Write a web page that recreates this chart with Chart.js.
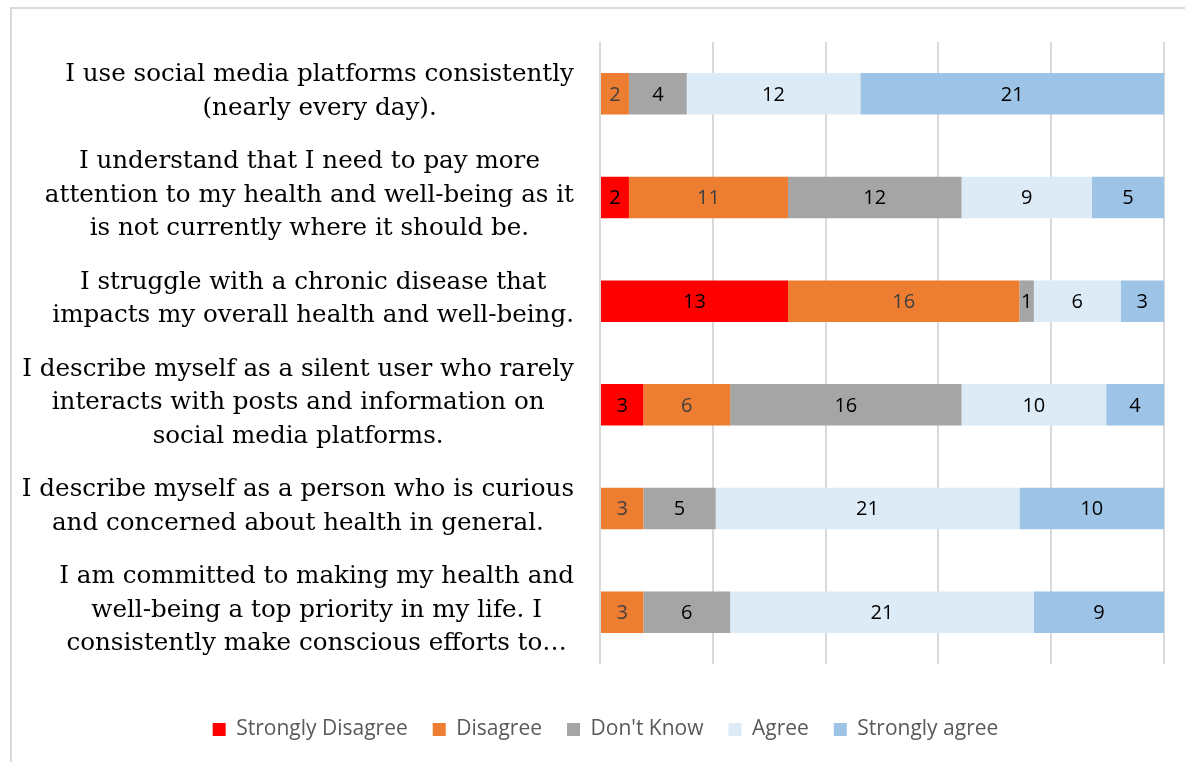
<!DOCTYPE html>
<html>
<head>
<meta charset="utf-8">
<script src="https://cdn.jsdelivr.net/npm/chart.js@4.4.1/dist/chart.umd.min.js"></script>
<style>
  html, body { margin: 0; padding: 0; background: #fff; }
  #wrap { position: relative; width: 1185px; height: 762px; }
  #frame { position: absolute; left: 10px; top: 7px; width: 1175px; height: 755px;
           border-left: 2px solid #d9d9d9; border-top: 2px solid #d9d9d9; box-sizing: border-box; }
  canvas { position: absolute; left: 0; top: 0; }
</style>
</head>
<body>
<div id="wrap">
  <div id="frame"></div>
  <canvas id="c" width="1185" height="762"></canvas>
</div>
<script>
// ---- data ----
const categories = [
  ["I use social media platforms consistently", "(nearly every day)."],
  ["I understand that I need to pay more", "attention to my health and well-being as it", "is not currently where it should be."],
  ["I struggle with a chronic disease that", "impacts my overall health and well-being."],
  ["I describe myself as a silent user who rarely", "interacts with posts and information on", "social media platforms."],
  ["I describe myself as a person who is curious", "and concerned about health in general."],
  ["I am committed to making my health and", "well-being a top priority in my life. I", "consistently make conscious efforts to…"]
];
const seriesNames = ["Strongly Disagree", "Disagree", "Don't Know", "Agree", "Strongly agree"];
const stronglyDisagree = [0, 2, 13, 3, 0, 0];
const disagree         = [2, 11, 16, 6, 3, 3];
const dontKnow         = [4, 12, 1, 16, 5, 6];
const agree            = [12, 9, 6, 10, 21, 21];
const stronglyAgree    = [21, 5, 3, 4, 10, 9];
const xTicks = [0, 20, 40, 60, 80, 100];

const colors = ["#FF0000", "#ED7D31", "#A5A5A5", "#DDEBF7", "#9DC3E6"];
const labelColors = ["#000000", "#404040", "#000000", "#000000", "#000000"];

const counts = [stronglyDisagree, disagree, dontKnow, agree, stronglyAgree];
const totals = categories.map((_, i) => counts.reduce((s, arr) => s + arr[i], 0));

const datasets = counts.map((arr, k) => ({
  label: seriesNames[k],
  data: arr.map((v, i) => v / totals[i] * 100),
  raw: arr,
  backgroundColor: colors[k],
  borderWidth: 0,
  barPercentage: 0.4,
  categoryPercentage: 1.0
}));

const yLabelPlugin = {
  id: 'yLabels',
  afterDraw(chart) {
    const ctx = chart.ctx;
    const ys = chart.scales.y;
    const rightX = 574;
    const lh = 33.5;
    ctx.save();
    ctx.font = '24.6px "DejaVu Serif", "Liberation Serif", serif';
    ctx.fillStyle = '#000000';
    ctx.textAlign = 'center';
    ctx.textBaseline = 'middle';
    categories.forEach((lines, i) => {
      const cy = ys.getPixelForValue(i) - 2;
      const w = Math.max(...lines.map(l => ctx.measureText(l).width));
      const cx = rightX - w / 2;
      const y0 = cy - (lines.length - 1) * lh / 2;
      lines.forEach((l, j) => ctx.fillText(l, cx, y0 + j * lh));
    });
    ctx.restore();
  }
};

const valueLabelPlugin = {
  id: 'valueLabels',
  afterDatasetsDraw(chart) {
    const ctx = chart.ctx;
    ctx.save();
    ctx.font = '20px "Open Sans", sans-serif';
    ctx.textAlign = 'center';
    ctx.textBaseline = 'middle';
    chart.data.datasets.forEach((ds, k) => {
      const meta = chart.getDatasetMeta(k);
      meta.data.forEach((el, i) => {
        const v = ds.raw[i];
        if (!v) return;
        ctx.fillStyle = labelColors[k];
        ctx.fillText(String(v), (el.x + el.base) / 2, el.y + 1);
      });
    });
    ctx.restore();
  }
};

new Chart(document.getElementById('c'), {
  type: 'bar',
  data: { labels: categories.map(c => c.join(' ')), datasets },
  options: {
    indexAxis: 'y',
    responsive: false,
    animation: false,
    layout: { padding: { left: 47, right: 21, top: 42, bottom: 12 } },
    scales: {
      x: {
        stacked: true, min: 0, max: 100,
        afterBuildTicks: s => { s.ticks = xTicks.map(v => ({ value: v })); },
        afterFit: s => { s.height = 30; },
        ticks: { display: false },
        grid: { color: '#d9d9d9', lineWidth: 2, drawTicks: false },
        border: { display: false }
      },
      y: {
        stacked: true,
        afterFit: s => { s.width = 553; },
        ticks: { display: false },
        grid: { display: false },
        border: { display: false }
      }
    },
    plugins: {
      legend: {
        position: 'bottom',
        labels: {
          boxWidth: 13, boxHeight: 13, padding: 25,
          color: '#595959',
          font: { size: 21, family: '"Open Sans", sans-serif', lineHeight: 1 }
        }
      },
      tooltip: { enabled: false }
    }
  },
  plugins: [yLabelPlugin, valueLabelPlugin]
});
</script>
</body>
</html>
